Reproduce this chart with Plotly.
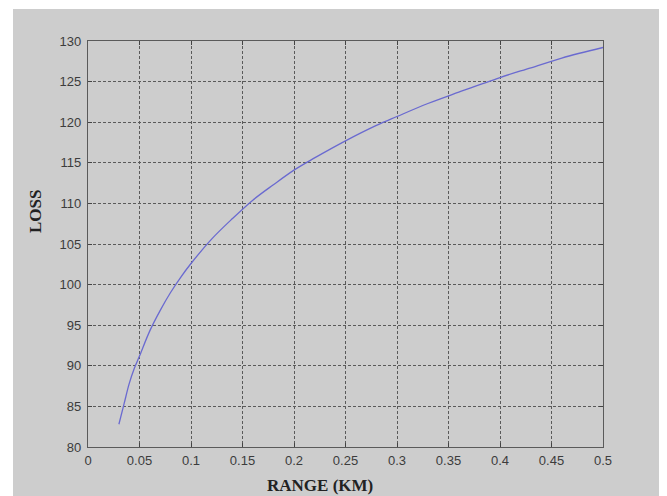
import plotly.graph_objects as go

range_km = [0.03, 0.035, 0.04, 0.045, 0.05, 0.06, 0.07, 0.08, 0.09, 0.10,
            0.12, 0.14, 0.16, 0.18, 0.20, 0.22, 0.25, 0.28, 0.30, 0.33,
            0.36, 0.40, 0.43, 0.46, 0.50]
loss = [82.8, 85.3, 87.8, 89.7, 91.2, 94.3, 96.8, 99.0, 100.9, 102.6,
        105.6, 108.1, 110.4, 112.3, 114.1, 115.6, 117.7, 119.6, 120.7, 122.3,
        123.7, 125.5, 126.7, 127.9, 129.2]

x_ticks = [0, 0.05, 0.1, 0.15, 0.2, 0.25, 0.3, 0.35, 0.4, 0.45, 0.5]
x_tick_labels = ["0", "0.05", "0.1", "0.15", "0.2", "0.25", "0.3", "0.35", "0.4", "0.45", "0.5"]
y_ticks = [80, 85, 90, 95, 100, 105, 110, 115, 120, 125, 130]
y_tick_labels = [str(v) for v in y_ticks]

# page has an 8px body margin; figure-local coordinates below
W, H = 659, 488
L, R, T, B = 80, 64, 33, 49
PW, PH = W - L - R, H - T - B


def px(x):
    return (x - L) / PW


def py(y):
    return ((H - B) - y) / PH


fig = go.Figure()
fig.add_trace(go.Scatter(x=range_km, y=loss, mode="lines",
                         line=dict(color="#6a6ad0", width=1.3, shape="spline"),
                         showlegend=False, hoverinfo="skip"))

axis_common = dict(
    showline=True, linecolor="#5a5a5a", linewidth=1.2, mirror="ticks",
    ticks="inside", ticklen=4, tickcolor="#444",
    showgrid=True, gridcolor="#5a5a5a", gridwidth=1, griddash="3px,2px",
    zeroline=False,
    tickfont=dict(family="Liberation Sans, Arial, sans-serif", size=13, color="#3c3c3c"),
)

fig.update_xaxes(range=[0, 0.5], tickvals=x_ticks, ticktext=x_tick_labels,
                 ticklabelstandoff=1, **axis_common)
fig.update_yaxes(range=[80, 130], tickvals=y_ticks, ticktext=y_tick_labels,
                 ticklabelstandoff=3, **axis_common)

fig.update_layout(
    width=W, height=H,
    margin=dict(l=L, r=R, t=T, b=B, pad=0),
    paper_bgcolor="white",
    plot_bgcolor="white",
    shapes=[dict(type="rect", xref="paper", yref="paper", layer="below",
                 x0=px(5), x1=px(W), y0=py(H), y1=py(1),
                 fillcolor="#cdcdcd", line=dict(width=0))],
    annotations=[
        dict(text="<b>RANGE (KM)</b>", xref="paper", yref="paper",
             x=px(312), y=py(477),
             xanchor="center", yanchor="middle", showarrow=False,
             font=dict(family="Liberation Serif, Times New Roman, serif", size=17, color="#222")),
        dict(text="<b>LOSS</b>", xref="paper", yref="paper",
             x=px(27), y=py(204),
             xanchor="center", yanchor="middle", showarrow=False, textangle=-90,
             font=dict(family="Liberation Serif, Times New Roman, serif", size=17, color="#222")),
    ],
)

fig.write_html("out.html")
